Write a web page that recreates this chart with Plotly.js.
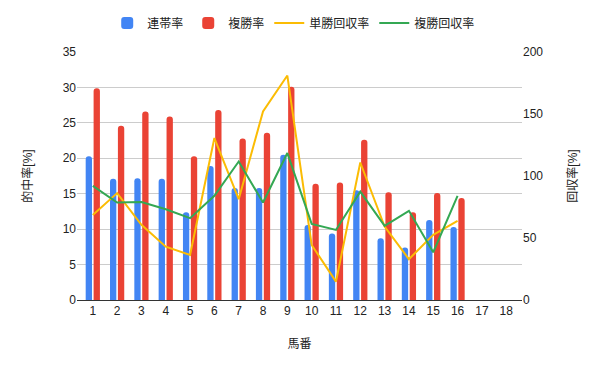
<!DOCTYPE html>
<html>
<head>
<meta charset="utf-8">
<script src="https://cdn.plot.ly/plotly-3.0.1.min.js"></script>
<style>html,body{margin:0;padding:0;background:#fff}#chart{width:600px;height:371px}</style>
</head>
<body>
<div id="chart"></div>
<script>
const horseNumbers = [1,2,3,4,5,6,7,8,9,10,11,12,13,14,15,16,17,18];
const dataNumbers = [1,2,3,4,5,6,7,8,9,10,11,12,13,14,15,16];
const rentaiRate = [20.3,17.1,17.2,17.1,12.4,18.9,15.8,15.8,20.5,10.6,9.4,15.5,8.7,7.4,11.3,10.3];
const fukushoRate = [29.9,24.6,26.6,25.9,20.3,26.8,22.8,23.6,30.1,16.4,16.6,22.6,15.2,12.4,15.1,14.4];
const tanshoReturn = [68.6,86.2,60.6,43.0,36.3,130.6,81.3,152.0,181.0,44.4,14.8,110.9,59.2,32.9,52.5,63.8];
const fukushoReturn = [92.0,78.6,79.1,73.2,66.0,84.0,111.7,78.6,118.5,61.4,56.5,87.4,59.8,71.9,38.5,84.0];
const seriesNames = ['連帯率','複勝率','単勝回収率','複勝回収率'];
const colors = ['#4285F4','#EA4335','#FBBC04','#34A853'];

const font = "'Liberation Sans', Arial, 'Noto Sans CJK JP', sans-serif";

const traces = [
  {type:'bar', name:seriesNames[0], x:dataNumbers, y:rentaiRate, marker:{color:colors[0]}, yaxis:'y'},
  {type:'bar', name:seriesNames[1], x:dataNumbers, y:fukushoRate, marker:{color:colors[1]}, yaxis:'y'},
  {type:'scatter', mode:'lines', name:seriesNames[2], x:dataNumbers, y:tanshoReturn, line:{color:colors[2], width:2}, yaxis:'y2'},
  {type:'scatter', mode:'lines', name:seriesNames[3], x:dataNumbers, y:fukushoReturn, line:{color:colors[3], width:2}, yaxis:'y2'}
];

const layout = {
  width:600, height:371,
  margin:{l:77, r:78, t:52, b:71, autoexpand:false},
  paper_bgcolor:'#fff', plot_bgcolor:'#fff',
  font:{family:font, size:12, color:'#444'},
  barmode:'group', bargap:0.35, bargroupgap:0.2, barcornerradius:3,
  showlegend:true,
  legend:{orientation:'h', x:0.487, xanchor:'center', y:1.117, yanchor:'middle',
          font:{family:font, size:12, color:'#222'}, traceorder:'normal', itemwidth:30},
  xaxis:{range:[0.35,18.65], tickmode:'array', tickvals:horseNumbers, ticktext:horseNumbers.map(String),
         showgrid:false, zeroline:false, showline:true, linecolor:'#333', linewidth:1,
         ticks:'', tickfont:{size:12, color:'#222'},
         title:{text:'馬番', font:{size:12, color:'#222'}, standoff:22}},
  yaxis:{range:[0,35], dtick:5, tick0:0, showgrid:true, gridcolor:'#ccc', gridwidth:1,
         zeroline:false, showline:false, ticks:'', tickfont:{size:12, color:'#222'},
         title:{text:'的中率[%]', font:{size:12, color:'#222'}, standoff:27}},
  yaxis2:{range:[0,200], dtick:50, tick0:0, overlaying:'y', side:'right', showgrid:false,
          zeroline:false, showline:false, ticks:'', tickfont:{size:12, color:'#222'},
          title:{text:'回収率[%]', font:{size:12, color:'#222'}, standoff:26}}
};

Plotly.newPlot('chart', traces, layout, {displayModeBar:false, staticPlot:true});
</script>
</body>
</html>
